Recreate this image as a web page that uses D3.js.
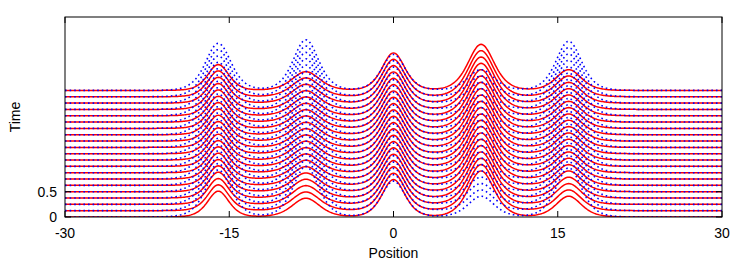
<!DOCTYPE html>
<meta charset="utf-8">
<style>
  body { margin: 0; background: #fff; }
  text { font-family: "Liberation Sans", Arial, sans-serif; font-size: 14px; fill: #000; }
  .red path { fill: none; stroke: #ff0000; stroke-width: 1.5px; }
  .blue path { fill: none; stroke: #0000ff; stroke-width: 1.6px; stroke-dasharray: 1.6,3; }
</style>
<svg width="747" height="262"></svg>
<script src="https://d3js.org/d3.v7.min.js"></script>
<script>
  // rows of the waterfall (time of each trace)
  var times = [0, 0.125, 0.25, 0.375, 0.5, 0.625, 0.75, 0.875, 1, 1.125, 1.25,
    1.375, 1.5, 1.625, 1.75, 1.875, 2, 2.125, 2.25, 2.375, 2.5];

  // pulse centres, heights and widths
  var centers = [-16, -8, 0, 8, 16];
  var redAmps = [0.51, 0.37, 0.74, 0.91, 0.41];
  var redWidths = [1.3, 1.7, 1.4, 1.6, 1.55];
  var blueAmps = [0.93, 1.0, 0.71, 0.41, 0.97];
  var blueWidths = [1.55, 1.55, 1.45, 1.6, 1.55];

  var xTicks = [-30, -15, 0, 15, 30];
  var yTicks = [0, 0.5];

  var svg = d3.select("svg"),
    margin = {left: 65, right: 25, top: 17, bottom: 45},
    width = +svg.attr("width") - margin.left - margin.right,
    height = +svg.attr("height") - margin.top - margin.bottom;

  var x = d3.scaleLinear().domain([-30, 30]).range([margin.left, margin.left + width]);
  var y = d3.scaleLinear().domain([0, 3.95]).range([margin.top + height, margin.top]);

  var xs = d3.range(-30, 30.001, 0.1);

  // sech^2 pulse train
  function profile(amps, widths) {
    return xs.map(function(p) {
      var v = 0;
      centers.forEach(function(c, i) {
        var s = 1 / Math.cosh((p - c) / widths[i]);
        v += amps[i] * s * s;
      });
      return [p, v];
    });
  }

  var redProfile = profile(redAmps, redWidths);
  var blueProfile = profile(blueAmps, blueWidths);

  svg.append("clipPath").attr("id", "clip")
    .append("rect")
    .attr("x", margin.left).attr("y", margin.top)
    .attr("width", width).attr("height", height);

  function drawSet(cls, prof) {
    svg.append("g")
      .attr("class", cls)
      .attr("clip-path", "url(#clip)")
      .selectAll("path")
      .data(times)
      .enter().append("path")
      .attr("d", function(t) {
        return d3.line()
          .x(function(d) { return x(d[0]); })
          .y(function(d) { return y(t + d[1]); })(prof);
      });
  }

  drawSet("red", redProfile);
  drawSet("blue", blueProfile);

  // frame
  svg.append("rect")
    .attr("x", margin.left).attr("y", margin.top)
    .attr("width", width).attr("height", height)
    .attr("fill", "none").attr("stroke", "#000").attr("stroke-width", 1);

  // inward ticks on all sides
  var ax = svg.append("g").attr("stroke", "#000").attr("stroke-width", 1);
  xTicks.forEach(function(v) {
    ax.append("line").attr("x1", x(v)).attr("x2", x(v))
      .attr("y1", margin.top + height).attr("y2", margin.top + height - 6);
    ax.append("line").attr("x1", x(v)).attr("x2", x(v))
      .attr("y1", margin.top).attr("y2", margin.top + 6);
  });
  yTicks.forEach(function(v) {
    ax.append("line").attr("x1", margin.left).attr("x2", margin.left + 6)
      .attr("y1", y(v)).attr("y2", y(v));
    ax.append("line").attr("x1", margin.left + width).attr("x2", margin.left + width - 6)
      .attr("y1", y(v)).attr("y2", y(v));
  });

  svg.append("g").selectAll("text")
    .data(xTicks)
    .enter().append("text")
    .attr("x", function(d) { return x(d); })
    .attr("y", margin.top + height + 21)
    .attr("text-anchor", "middle")
    .text(function(d) { return d; });

  svg.append("g").selectAll("text")
    .data(yTicks)
    .enter().append("text")
    .attr("x", margin.left - 8)
    .attr("y", function(d) { return y(d) + 5; })
    .attr("text-anchor", "end")
    .text(function(d) { return d; });

  svg.append("text")
    .attr("x", x(0)).attr("y", 258)
    .attr("text-anchor", "middle")
    .text("Position");

  svg.append("text")
    .attr("transform", "translate(20," + (margin.top + height / 2) + ") rotate(-90)")
    .attr("text-anchor", "middle")
    .text("Time");
</script>
